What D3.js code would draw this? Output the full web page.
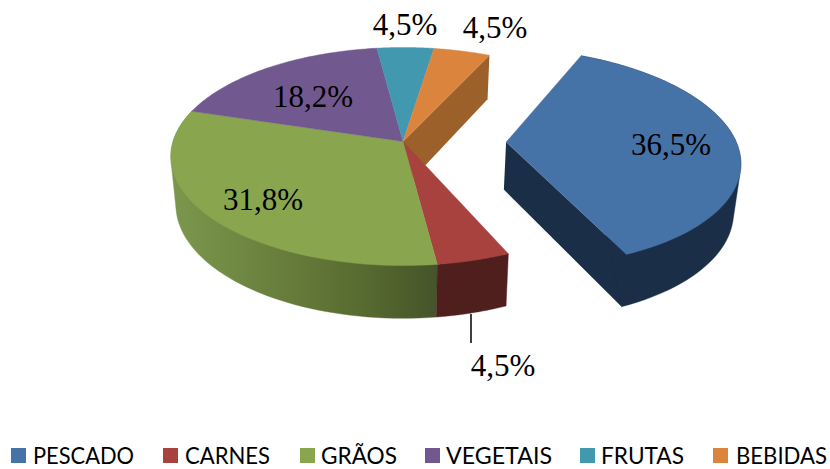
<!DOCTYPE html>
<html>
<head>
<meta charset="utf-8">
<script src="https://cdn.jsdelivr.net/npm/d3@7/dist/d3.min.js"></script>
<style>
html,body{margin:0;padding:0;background:#fff;}
svg{display:block;}
</style>
</head>
<body>
<svg id="chart" width="830" height="469"></svg>
<script>
const categories = ["PESCADO", "CARNES", "GRÃOS", "VEGETAIS", "FRUTAS", "BEBIDAS"];
const shares = [36.5, 4.5, 31.8, 18.2, 4.5, 4.5];
const topColors = ["#4572a7", "#a8423f", "#89a54e", "#71588f", "#4198af", "#db843d"];
const wallColors = ["#1b2e47", "#4f1f1e", "url(#wallGreen)", "#44345a", "#27606f", "#9c602b"];
const exploded = [0.448, 0, 0, 0, 0, 0];

const svg = d3.select("#chart");
const toRad = Math.PI / 180;
const pie = d3.pie().sort(null).value(d => d)
  .startAngle(25 * toRad).endAngle(385 * toRad);
const arcs = pie(shares);

// perspective projection of the unit disc, top and bottom faces
const k = 0.1376;
const faces = {
  top:    { x0: 403, y0: 141.5, R: 230, S: 107 },
  bottom: { x0: 403, y0: 189, R: 225, S: 111.5 }
};
function project(u, v, face) {
  const f = faces[face], w = 1 + k * v;
  return [f.x0 + f.R * u / w, f.y0 - f.S * v / w];
}
const line = d3.line();

function slice(a, i) {
  const mid = (a.startAngle + a.endAngle) / 2, e = exploded[i];
  const du = e * Math.sin(mid), dv = e * Math.cos(mid);
  const pt = (ang, r, face) => project(du + r * Math.sin(ang), dv + r * Math.cos(ang), face);
  const rim = (face, reverse) => {
    const steps = d3.range(0, 61).map(t => a.startAngle + (a.endAngle - a.startAngle) * t / 60);
    if (reverse) steps.reverse();
    return steps.map(ang => pt(ang, 1, face));
  };
  return { pt, rim };
}

const defs = svg.append("defs");
const grad = defs.append("linearGradient").attr("id", "wallGreen")
  .attr("gradientUnits", "userSpaceOnUse")
  .attr("x1", 172).attr("x2", 438).attr("y1", 0).attr("y2", 0);
[[0, "#7c974d"], [0.25, "#6f8843"], [0.5, "#647838"], [0.75, "#55682f"], [1, "#45542a"]]
  .forEach(s => grad.append("stop").attr("offset", s[0]).attr("stop-color", s[1]));

const g = svg.append("g");
const geo = arcs.map(slice);

// radial wall of BEBIDAS faces the gap left by PESCADO
{
  const i = 5, a = arcs[i], s = geo[i];
  g.append("path").attr("fill", wallColors[i]).attr("d", line([
    s.pt(a.endAngle, 0, "top"), s.pt(a.endAngle, 1, "top"),
    s.pt(a.endAngle, 1, "bottom"), s.pt(a.endAngle, 0, "bottom")]) + "Z");
}
// radial wall of PESCADO along its end edge
{
  const i = 0, a = arcs[i], s = geo[i];
  g.append("path").attr("fill", wallColors[i]).attr("d", line([
    s.pt(a.endAngle, 0, "top"), s.pt(a.endAngle, 1, "top"),
    s.pt(a.endAngle, 1, "bottom"), s.pt(a.endAngle, 0, "bottom")]) + "Z");
}
// outer walls: convex hull of both rims gives the tangent silhouette
[2, 1, 0].forEach(i => {
  const hull = d3.polygonHull(geo[i].rim("top", false).concat(geo[i].rim("bottom", false)));
  g.append("path").attr("fill", wallColors[i]).attr("stroke", wallColors[i]).attr("stroke-width", 0.4)
    .attr("d", line(hull) + "Z");
});
// top faces
arcs.forEach((a, i) => {
  g.append("path").attr("fill", topColors[i]).attr("stroke", topColors[i]).attr("stroke-width", 0.4)
    .attr("d", line([geo[i].pt(a.startAngle, 0, "top")].concat(geo[i].rim("top", false))) + "Z");
});

// leader line for CARNES
svg.append("line").attr("x1", 471).attr("x2", 471).attr("y1", 314).attr("y2", 343)
  .attr("stroke", "#000").attr("stroke-width", 1.5);

// data labels
const labelAnchors = [[671, 155], [503, 376], [263, 210], [313, 107], [405, 35], [495, 38]];
const fmt = v => d3.format(".1f")(v).replace(".", ",") + "%";
svg.append("g").selectAll("text").data(shares).join("text")
  .attr("x", (d, i) => labelAnchors[i][0]).attr("y", (d, i) => labelAnchors[i][1])
  .attr("text-anchor", "middle")
  .attr("font-family", "'Liberation Serif', serif").attr("font-size", 31)
  .attr("fill", "#000").text(fmt);

// legend
const legendX = [11, 163, 300, 425, 580, 713];
const legendTextX = [33, 185, 321, 446, 601, 736];
const legendTextW = [101, 85, 76, 106, 83, 91];
const leg = svg.append("g");
categories.forEach((c, i) => {
  leg.append("rect").attr("x", legendX[i]).attr("y", 448).attr("width", 15).attr("height", 15)
    .attr("fill", topColors[i]);
  leg.append("text").attr("x", legendTextX[i]).attr("y", 464)
    .attr("font-family", "Lato, sans-serif").attr("font-size", 23).attr("fill", "#000")
    .attr("textLength", legendTextW[i]).attr("lengthAdjust", "spacingAndGlyphs")
    .text(c);
});
</script>
</body>
</html>
